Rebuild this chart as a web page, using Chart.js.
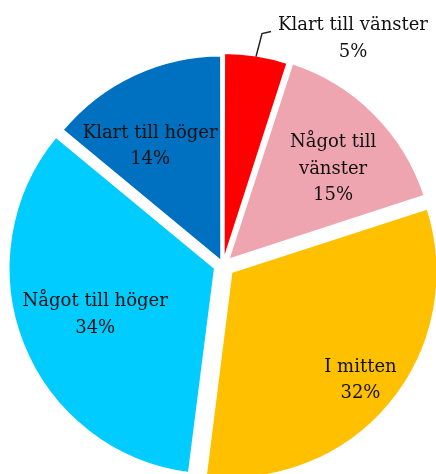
<!DOCTYPE html>
<html>
<head>
<meta charset="utf-8">
<script src="https://cdn.jsdelivr.net/npm/chart.js@4"></script>
<style>
  html, body { margin: 0; padding: 0; background: #fff; overflow: hidden; }
  #wrap { width: 436px; height: 474px; }
</style>
</head>
<body>
<div id="wrap"><canvas id="pieChart" width="436" height="474"></canvas></div>
<script>
// Andel per kategori, medurs från kl 12
const labels = ['Klart till vänster', 'Något till vänster', 'I mitten', 'Något till höger', 'Klart till höger'];
const values = [5, 15, 32, 34, 14];
const colors = ['#FF0000', '#EFA5AF', '#FFC000', '#00CCFF', '#0070C0'];

// rader i varje etikett (radbrytning som i originalet)
const labelLines = [
    ['Klart till vänster'],
    ['Något till', 'vänster'],
    ['I mitten'],
    ['Något till höger'],
    ['Klart till höger']
];

// önskad utskjutning i px per sektor
const explode = [7, 9, 12, 10, 5];
// etikettens avstånd (andel av radien) och vridning i grader från sektorns mitt
const labelDist = [null, 0.72, 0.883, 0.66, 0.675];
const labelTurn = [0, 4.4, 0, 0, -5.6];

// Chart.js flyttar en sektor offset/4 * (2 - sin(vinkel)), räkna om
function arcOffset(ctx) {
    const i = ctx.dataIndex;
    const total = values.reduce((a, b) => a + b, 0);
    const circ = Math.min(Math.PI, values[i] / total * 2 * Math.PI);
    return explode[i] * 4 / (2 - Math.sin(circ));
}

const sliceLabels = {
    id: 'sliceLabels',
    afterDatasetsDraw(chart) {
        const { ctx } = chart;
        const arcs = chart.getDatasetMeta(0).data;
        ctx.save();
        ctx.font = '18px "DejaVu Serif", serif';
        ctx.fillStyle = '#111';
        ctx.textAlign = 'center';
        ctx.textBaseline = 'middle';
        const lh = 26.5;
        arcs.forEach((arc, i) => {
            const p = arc.getProps(['x', 'y', 'startAngle', 'endAngle', 'outerRadius'], true);
            const mid = (p.startAngle + p.endAngle) / 2;
            const lines = labelLines[i].concat([values[i] + '%']);
            if (labelDist[i] === null) {
                // liten sektor: etikett utanför med hänvisningslinje
                const cx0 = p.x + Math.cos(mid) * explode[i];
                const cy0 = p.y + Math.sin(mid) * explode[i];
                const x0 = cx0 + Math.cos(mid) * (p.outerRadius - 1);
                const y0 = cy0 + Math.sin(mid) * (p.outerRadius - 1);
                const x1 = x0 + 6, y1 = y0 - 23;
                ctx.strokeStyle = '#222';
                ctx.lineWidth = 1.5;
                ctx.beginPath();
                ctx.moveTo(x0, y0);
                ctx.lineTo(x1, y1);
                ctx.lineTo(x1 + 9, y1 - 2);
                ctx.stroke();
                const cx = x1 + 91;
                const cy = y1 - 8;
                lines.forEach((t, k) => ctx.fillText(t, cx, cy + k * lh));
            } else {
                const a = mid + labelTurn[i] * Math.PI / 180;
                const r = p.outerRadius * labelDist[i];
                const cx = p.x + Math.cos(a) * r - 2;
                const cy = p.y + Math.sin(a) * r;
                const top = cy - (lines.length - 1) * lh / 2;
                lines.forEach((t, k) => ctx.fillText(t, cx, top + k * lh));
            }
        });
        ctx.restore();
    }
};

new Chart(document.getElementById('pieChart'), {
    type: 'pie',
    data: {
        labels: labels,
        datasets: [{
            data: values,
            backgroundColor: colors,
            borderColor: '#ffffff',
            borderWidth: 2,
            offset: arcOffset,
            clip: false
        }]
    },
    options: {
        responsive: false,
        animation: false,
        radius: 205,
        layout: { padding: { left: 10, right: 0, top: 56, bottom: 0 } },
        plugins: {
            legend: { display: false },
            tooltip: { enabled: false }
        }
    },
    plugins: [sliceLabels]
});
</script>
</body>
</html>
